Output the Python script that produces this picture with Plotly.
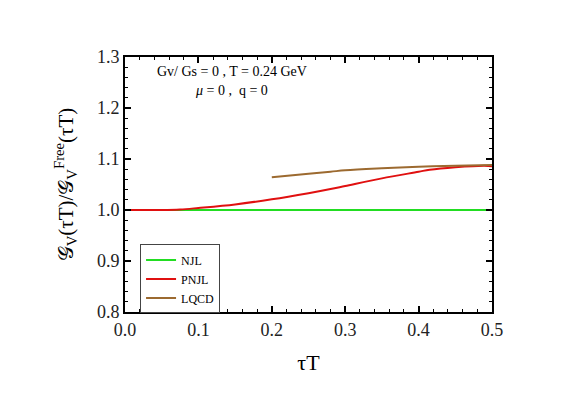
import plotly.graph_objects as go

tau_njl = [0.0, 0.5]
g_njl = [1.0, 1.0]

tau_pnjl = [0.0, 0.05, 0.075, 0.1, 0.15, 0.2, 0.25, 0.28, 0.3, 0.35, 0.4, 0.415, 0.45, 0.49, 0.5]
g_pnjl = [1.0, 1.0, 1.001, 1.004, 1.011, 1.021, 1.033, 1.041, 1.047, 1.062, 1.075, 1.079, 1.084, 1.087, 1.086]

tau_lqcd = [0.2, 0.25, 0.28, 0.3, 0.35, 0.4, 0.45, 0.5]
g_lqcd = [1.064, 1.071, 1.075, 1.078, 1.082, 1.085, 1.087, 1.088]

font = "Liberation Serif"

fig = go.Figure()
fig.add_trace(go.Scatter(x=tau_njl, y=g_njl, mode="lines", name="NJL",
                         line=dict(color="#22dd22", width=2)))
fig.add_trace(go.Scatter(x=tau_pnjl, y=g_pnjl, mode="lines", name="PNJL",
                         line=dict(color="#e01010", width=2, shape="spline")))
fig.add_trace(go.Scatter(x=tau_lqcd, y=g_lqcd, mode="lines", name="LQCD",
                         line=dict(color="#9c6a30", width=2, shape="spline")))

axis_common = dict(
    showgrid=False, zeroline=False, showline=True, linecolor="black", linewidth=2,
    mirror="allticks", ticks="inside", ticklen=6, tickwidth=1.5, tickcolor="black",
    tickfont=dict(family=font, size=18, color="#222"),
    minor=dict(ticks="inside", ticklen=3, tickwidth=1, tickcolor="black", dtick=0.02),
)

fig.update_layout(
    width=569, height=399,
    margin=dict(l=117, r=85, t=49, b=95),
    paper_bgcolor="white", plot_bgcolor="white",
    font=dict(family=font, color="black"),
    xaxis=dict(range=[0, 0.5], dtick=0.1, tickformat=".1f",
               title=dict(text="τT", font=dict(family=font, size=22), standoff=16),
               **axis_common),
    yaxis=dict(range=[0.8, 1.3], dtick=0.1, tickformat=".1f",
               title=dict(text="𝒢<sub>V</sub>(τT)/𝒢<sub>V</sub><sup>Free</sup>(τT)",
                          font=dict(family=font, size=21), standoff=18),
               **axis_common),
    legend=dict(x=0.041, y=0.265, xanchor="left", yanchor="top",
                bgcolor="white", bordercolor="#444", borderwidth=1,
                font=dict(family=font, size=12), tracegroupgap=0,
                itemwidth=30),
    showlegend=True,
    annotations=[
        dict(text="Gv/ Gs = 0 , T = 0.24 GeV", x=0.083, y=0.945, xref="paper", yref="paper",
             xanchor="left", yanchor="middle", showarrow=False, font=dict(family=font, size=14)),
        dict(text="<i>μ</i> = 0 ,  q = 0", x=0.185, y=0.87, xref="paper", yref="paper",
             xanchor="left", yanchor="middle", showarrow=False, font=dict(family=font, size=14)),
    ],
)

fig.write_html("out.html")
